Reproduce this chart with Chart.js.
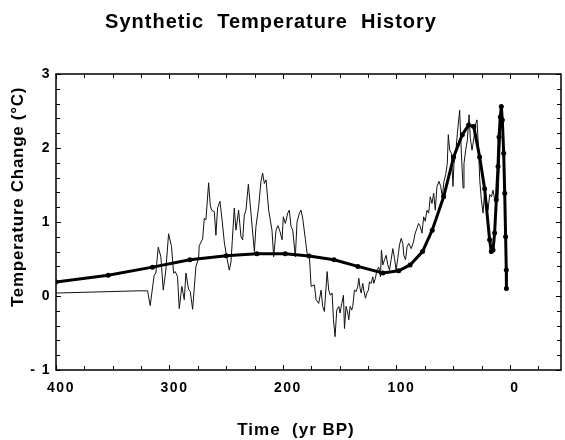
<!DOCTYPE html>
<html>
<head>
<meta charset="utf-8">
<script src="https://cdn.jsdelivr.net/npm/chart.js@4"></script>
<style>
  body { margin: 0; background: #fff; }
</style>
</head>
<body>
<canvas id="tempChart" width="565" height="440"></canvas>
<script>
// Values (years BP, degrees C)

var thinYears = [
    400, 326.7, 319.3, 317.0, 313.5, 312.0, 309.9, 307.6, 305.5, 303.2,
    300.8, 298.2, 296.4, 294.9, 292.9, 291.4, 289.1, 287.0, 285.5, 283.2,
    281.7, 279.6, 276.7, 274.3, 273.8, 270.8, 269.3, 267.9, 265.5, 264.1,
    262.9, 260.5, 259.1, 257.6, 255.5, 253.8, 251.7, 249.6, 247.3, 245.8,
    242.9, 241.4, 239.1, 237.0, 235.5, 234.1, 232.6, 230.5, 228.2, 225.2,
    223.8, 221.4, 219.4, 217.9, 216.4, 214.9, 212.6, 209.7, 208.2, 206.1,
    204.4, 202.6, 200.8, 199.7, 197.9, 195.8, 194.4, 192.9, 191.4, 189.1,
    187.6, 185.5, 184.1, 182.6, 180.2, 178.8, 176.7, 175.2, 172.3, 170.8,
    168.5, 166.4, 165.0, 163.5, 161.1, 159.7, 158.2, 156.7, 155.5, 154.1,
    152.6, 150.8, 149.7, 148.2, 146.7, 145.8, 144.4, 142.9, 142.0, 140.8,
    139.4, 138.5, 137.0, 135.5, 134.1, 133.2, 132.0, 131.1, 129.7, 128.8,
    127.3, 126.1, 124.7, 123.8, 122.3, 120.8, 120.0, 118.5, 117.3, 115.5,
    114.1, 113.2, 112.0, 110.5, 109.1, 107.6, 106.1, 104.7, 103.2, 101.7,
    100.3, 98.8, 97.3, 95.8, 94.4, 93.5, 92.0, 90.6, 89.1, 87.0,
    85.0, 83.5, 82.0, 80.5, 79.0, 77.5, 76.0, 74.6, 73.1, 71.6,
    70.2, 68.7, 67.2, 65.8, 64.3, 62.5, 61.0, 59.6, 58.1, 56.6,
    55.2, 54.3, 53.1, 51.6, 50.2, 49.3, 47.8, 46.3, 44.3, 42.8,
    41.3, 40.5, 39.0, 37.5, 36.0, 34.9, 33.4, 31.6, 30.2, 29.0,
    27.5, 26.6, 25.2, 23.7, 22.2, 20.8, 19.3, 17.8, 16.3, 14.9,
    13.4, 11.9, 10.5, 9.0, 8.0, 7.2, 6.2, 5.2, 4.2
];
var thinTemps = [
    0.04, 0.07, 0.07, -0.13, 0.28, 0.31, 0.66, 0.53, 0.08, 0.35,
    0.84, 0.67, 0.31, 0.33, 0.26, -0.17, 0.13, -0.05, 0.31, 0.09,
    0.06, -0.18, 0.40, 0.51, 0.68, 0.77, 1.05, 1.03, 1.53, 1.23,
    1.16, 1.14, 0.82, 1.19, 1.28, 1.05, 0.73, 0.53, 0.35, 0.46,
    1.19, 0.89, 1.16, 0.80, 0.76, 1.09, 1.16, 1.51, 1.12, 0.60,
    0.94, 1.21, 1.55, 1.66, 1.52, 1.57, 1.16, 0.89, 0.53, 0.89,
    0.95, 0.87, 0.76, 1.07, 0.98, 1.12, 1.16, 0.94, 0.89, 0.53,
    1.00, 1.12, 1.16, 1.05, 0.76, 0.58, 0.53, 0.13, 0.15, -0.05,
    -0.10, 0.08, -0.14, -0.21, 0.33, 0.08, 0.01, 0.04, -0.32, -0.55,
    -0.19, -0.14, -0.23, -0.10, 0.01, -0.44, -0.14, -0.23, -0.32, -0.14,
    -0.19, -0.14, 0.08, 0.06, 0.13, 0.24, 0.10, 0.04, 0.17, 0.08,
    -0.03, 0.04, 0.08, 0.19, 0.17, 0.26, 0.17, 0.24, 0.35, 0.39,
    0.26, 0.62, 0.42, 0.49, 0.55, 0.42, 0.35, 0.49, 0.64, 0.51,
    0.35, 0.51, 0.69, 0.78, 0.71, 0.55, 0.49, 0.67, 0.71, 0.64,
    0.73, 0.85, 0.91, 0.98, 0.94, 0.85, 1.07, 1.01, 1.16, 1.12,
    1.34, 1.25, 1.39, 1.16, 1.48, 1.55, 1.48, 1.34, 1.55, 1.64,
    1.79, 2.18, 1.97, 1.93, 1.48, 1.79, 1.93, 2.20, 2.51, 1.93,
    1.46, 1.79, 1.97, 2.11, 2.45, 2.13, 1.97, 2.15, 2.33, 2.38,
    1.93, 1.57, 1.30, 1.12, 1.43, 1.30, 1.16, 1.37, 1.34, 1.43,
    1.30, 1.25, 1.34, 1.90, 2.40, 2.50, 2.20, 1.50, 1.00
];

var smoothYears = [
    400, 354, 315, 282, 250, 223, 198, 177, 155, 134,
    112, 98, 88, 77, 68.5, 58.4, 49.6, 42, 36.4, 31.9,
    26.7, 22.3, 17.9, 16.4, 14.9, 13.5, 12.0, 10.5, 9.6, 8.5,
    7.6, 6.7, 5.5, 4.6, 3.8, 3.2, 3.1
];
var smoothTemps = [
    0.19, 0.28, 0.39, 0.49, 0.545, 0.57, 0.57, 0.54, 0.49, 0.40,
    0.31, 0.34, 0.42, 0.60, 0.89, 1.34, 1.88, 2.18, 2.31, 2.29,
    1.88, 1.45, 0.76, 0.60, 0.62, 0.85, 1.30, 1.75, 2.15, 2.42,
    2.56, 2.38, 1.93, 1.39, 0.80, 0.35, 0.10
];

var xTickValues = [400, 375, 350, 325, 300, 275, 250, 225, 200, 175, 150, 125, 100, 75, 50, 25, 0, -25];

var chartTitle = 'Synthetic  Temperature  History';
var xTitle = 'Time  (yr BP)';
var yTitle = 'Temperature Change (\u00B0C)';

function toPoints(xs, ys) {
    return xs.map(function (v, i) { return { x: v, y: ys[i] }; });
}

var labelFont = '"Liberation Sans", Arial, sans-serif';

// Frame, inward ticks and titles

var framePlugin = {
    id: 'frame',
    beforeDraw: function (chart) {
        // wider tracking for the tick labels, like the original
        chart.ctx.letterSpacing = '1.5px';
    },
    afterDraw: function (chart) {
        var ctx = chart.ctx;
        var a = chart.chartArea;
        var xs = chart.scales.x;
        var ys = chart.scales.y;

        ctx.save();
        ctx.strokeStyle = '#000';
        ctx.lineWidth = 1.5;
        ctx.strokeRect(a.left, a.top, a.right - a.left, a.bottom - a.top);

        ctx.lineWidth = 1;
        ctx.beginPath();
        xs.ticks.forEach(function (t) {
            var px = Math.round(xs.getPixelForValue(t.value)) + 0.5;
            var len = t.value % 100 === 0 ? 5 : 4;
            ctx.moveTo(px, a.bottom);
            ctx.lineTo(px, a.bottom - len);
            ctx.moveTo(px, a.top);
            ctx.lineTo(px, a.top + len);
        });
        ys.ticks.forEach(function (t) {
            var py = Math.round(ys.getPixelForValue(t.value)) + 0.5;
            var major = Math.abs(t.value - Math.round(t.value)) < 1e-6;
            var len = major ? 5 : 4;
            ctx.moveTo(a.left, py);
            ctx.lineTo(a.left + len, py);
            ctx.moveTo(a.right, py);
            ctx.lineTo(a.right - len, py);
        });
        ctx.stroke();

        ctx.fillStyle = '#000';
        ctx.textAlign = 'center';
        ctx.textBaseline = 'alphabetic';
        ctx.font = 'bold 20px ' + labelFont;
        ctx.letterSpacing = '1px';
        ctx.fillText(chartTitle, 271, 28);

        ctx.font = 'bold 17px ' + labelFont;
        ctx.letterSpacing = '1px';
        ctx.fillText(xTitle, 296, 435);

        ctx.letterSpacing = '0.7px';
        ctx.translate(23, 197);
        ctx.rotate(-Math.PI / 2);
        ctx.fillText(yTitle, 0, 0);
        ctx.restore();
        ctx.letterSpacing = '0px';
    }
};

var ctx = document.getElementById('tempChart');

var tempChart = new Chart(ctx, {
    type: 'line',
    data: {
        datasets: [{
            label: 'Smoothed',
            data: toPoints(smoothYears, smoothTemps),
            borderColor: '#000',
            backgroundColor: '#000',
            borderWidth: 3,
            pointRadius: 2.5,
            pointBackgroundColor: '#000',
            pointBorderWidth: 0,
            tension: 0
        }, {
            label: 'Synthetic',
            data: toPoints(thinYears, thinTemps),
            borderColor: '#111',
            borderWidth: 1,
            pointRadius: 0,
            tension: 0
        }]
    },
    options: {
        responsive: false,
        animation: false,
        layout: {
            padding: { top: 74, right: 3, left: 0, bottom: 0 }
        },
        plugins: {
            legend: { display: false },
            title: { display: false },
            tooltip: { enabled: false }
        },
        scales: {
            x: {
                type: 'linear',
                reverse: true,
                min: -45,
                max: 400,
                grid: { display: false, drawTicks: false },
                border: { display: false },
                afterBuildTicks: function (scale) {
                    scale.ticks = xTickValues.map(function (v) { return { value: v }; });
                },
                afterFit: function (scale) { scale.height = 70; },
                ticks: {
                    autoSkip: false,
                    maxRotation: 0,
                    padding: 10,
                    labelOffset: 5,
                    color: '#000',
                    font: { family: labelFont, size: 14, weight: 'bold' },
                    callback: function (v) { return v % 100 === 0 ? String(v) : ''; }
                }
            },
            y: {
                min: -1,
                max: 3,
                grid: { display: false, drawTicks: false },
                border: { display: false },
                afterFit: function (scale) { scale.width = 56; },
                ticks: {
                    stepSize: 0.2,
                    autoSkip: false,
                    padding: 5,
                    color: '#000',
                    font: { family: labelFont, size: 14, weight: 'bold' },
                    callback: function (v) {
                        if (Math.abs(v - Math.round(v)) > 1e-6) return '';
                        var n = Math.round(v);
                        return n < 0 ? '- ' + Math.abs(n) : String(n);
                    }
                }
            }
        }
    },
    plugins: [framePlugin]
});
</script>
</body>
</html>
